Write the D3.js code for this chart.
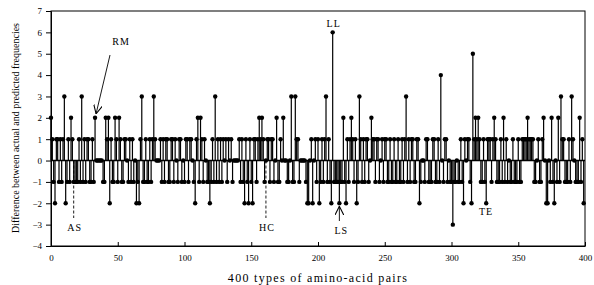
<!DOCTYPE html>
<html>
<head>
<meta charset="utf-8">
<script src="https://cdn.jsdelivr.net/npm/d3@7"></script>
<style>
  body { margin: 0; background: #fff; }
  svg { display: block; font-family: "Liberation Serif", "DejaVu Serif", serif; }
</style>
</head>
<body>
<svg id="chart" width="594" height="285"></svg>
<script>
// difference between actual and predicted frequencies, one value per amino-acid pair (index 0..399)
var diffs = [
  2,1,-1,-2,1,1,-1,1,-1,1, 3,-2,-1,1,-1,2,1,-1,-1,-1,
  -1,1,-1,3,-1,1,-1,1,1,-1, -1,1,-1,2,0,0,0,0,0,-1,
  -1,2,1,2,-2,1,-1,-1,2,1, -1,2,1,-1,-1,1,1,0,-1,1,
  -1,1,-1,0,-2,-1,-2,1,3,-1, -1,1,-1,-1,1,-1,1,3,1,0,
  0,0,1,-1,1,-1,1,1,-1,-1, 1,1,-1,1,0,-1,1,1,-1,0,
  -1,1,1,-1,1,1,0,-1,-2,1, 2,-1,2,1,-1,1,0,-1,-1,-2,
  -1,1,-1,3,-1,1,-1,1,-1,1, 0,1,-1,1,0,1,-1,0,0,0,
  0,1,-1,1,-1,-2,1,-1,-2,1, -1,-2,1,1,-1,1,2,1,2,1,
  -1,0,1,1,-1,1,1,-1,0,2, -1,-1,1,0,2,0,0,-1,-1,0,
  3,-1,-1,3,1,1,-1,0,0,0, 0,-1,-2,-2,0,1,-2,0,1,-1,
  1,-2,-1,1,-1,1,3,-1,1,-1, -2,6,-1,-1,-1,-1,-2,-1,-1,2,
  -1,-2,1,-1,1,2,1,-1,1,-2, -1,3,1,-1,1,-1,1,1,-1,0,
  2,1,1,-1,1,1,-1,0,1,-1, 1,1,-1,-1,1,-1,-1,1,-1,-1,
  1,-1,-1,1,-1,1,3,-1,1,-1, 1,1,-1,-1,1,1,-2,-1,0,0,
  -1,1,1,-1,-1,-1,1,1,-1,-1, 1,-1,4,0,-1,1,1,-1,0,-1,
  -1,-3,-1,-1,0,-1,-1,1,-1,-2, 1,0,1,1,-1,-2,5,1,2,1,
  2,1,-1,-1,1,-1,-2,1,1,1, -1,1,2,1,-1,-1,-1,1,-1,2,
  -1,1,-1,0,-1,-1,1,-1,-1,-1, 1,-1,-1,1,1,1,1,2,1,1,
  1,1,-1,-1,0,1,-1,-1,1,2, 0,-2,-2,0,-1,2,-1,-2,0,-1,
  2,-1,3,1,1,-1,-1,-1,1,-1, 3,1,0,-1,-1,-1,2,-1,1,-2
];
var xTicks = [0, 50, 100, 150, 200, 250, 300, 350, 400];
var yTicks = [-4, -3, -2, -1, 0, 1, 2, 3, 4, 5, 6, 7];

// labelled pairs: index, text
var arrowLabels = [
  {name: "RM", i: 33},
  {name: "LS", i: 216}
];
var dashLabels = [
  {name: "AS", i: 17},
  {name: "HC", i: 161}
];
var plainLabels = [
  {name: "LL", i: 211},
  {name: "TE", i: 326}
];

var svg = d3.select("#chart");
var mLeft = 51, mRight = 585, mTop = 11, mBottom = 246;

var x = d3.scaleLinear().domain([0, 400]).range([mLeft, mRight]);
var y = d3.scaleLinear().domain([-4, 7]).range([mBottom, mTop]);

// frame
svg.append("rect")
  .attr("x", mLeft).attr("y", mTop)
  .attr("width", mRight - mLeft).attr("height", mBottom - mTop)
  .attr("fill", "none").attr("stroke", "#000").attr("stroke-width", 1);

// y axis (ticks outward)
var yAxis = svg.append("g")
  .attr("transform", "translate(" + mLeft + ",0)")
  .call(d3.axisLeft(y).tickValues(yTicks).tickSize(5).tickPadding(4));
yAxis.selectAll("text").attr("font-size", 9).attr("font-family", "Liberation Serif");

// x axis (ticks inward)
var xAxis = svg.append("g")
  .attr("transform", "translate(0," + mBottom + ")")
  .call(d3.axisBottom(x).tickValues(xTicks).tickSizeInner(-4).tickSizeOuter(0).tickPadding(9));
xAxis.selectAll("text").attr("font-size", 9).attr("font-family", "Liberation Serif");

// zero line
svg.append("line")
  .attr("x1", mLeft).attr("x2", mRight)
  .attr("y1", y(0)).attr("y2", y(0))
  .attr("stroke", "#000").attr("stroke-width", 1.5);

// stems
svg.append("g").selectAll("line")
  .data(diffs)
  .join("line")
  .attr("x1", function(d, i) { return x(i); })
  .attr("x2", function(d, i) { return x(i); })
  .attr("y1", y(0))
  .attr("y2", function(d) { return y(d); })
  .attr("stroke", "#000")
  .attr("stroke-width", 1.2);

// markers
svg.append("g").selectAll("circle")
  .data(diffs)
  .join("circle")
  .attr("cx", function(d, i) { return x(i); })
  .attr("cy", function(d) { return y(d); })
  .attr("r", 2.2)
  .attr("fill", "#000");

// annotations
svg.append("defs").append("marker")
  .attr("id", "arr")
  .attr("viewBox", "0 0 10 10")
  .attr("refX", 10).attr("refY", 5)
  .attr("markerWidth", 9).attr("markerHeight", 9)
  .attr("markerUnits", "userSpaceOnUse")
  .attr("orient", "auto")
  .append("path")
  .attr("d", "M0,0 L10,5 L0,10")
  .attr("fill", "none").attr("stroke", "#000").attr("stroke-width", 1.2);

var rm = arrowLabels[0];
svg.append("line")
  .attr("x1", 110).attr("y1", 55)
  .attr("x2", x(rm.i) + 1).attr("y2", y(diffs[rm.i]) - 4)
  .attr("stroke", "#000").attr("stroke-width", 0.9)
  .attr("marker-end", "url(#arr)");
svg.append("text").attr("x", 121).attr("y", 45).attr("text-anchor", "middle")
  .attr("font-size", 10).attr("letter-spacing", 1).text(rm.name);

var ls = arrowLabels[1];
svg.append("line")
  .attr("x1", x(ls.i)).attr("y1", 221)
  .attr("x2", x(ls.i)).attr("y2", y(diffs[ls.i]) + 3)
  .attr("stroke", "#000").attr("stroke-width", 0.9)
  .attr("marker-end", "url(#arr)");
svg.append("text").attr("x", x(ls.i) + 2).attr("y", 234).attr("text-anchor", "middle")
  .attr("font-size", 10).attr("letter-spacing", 1).text(ls.name);

dashLabels.forEach(function(d) {
  svg.append("line")
    .attr("x1", x(d.i)).attr("x2", x(d.i))
    .attr("y1", y(0)).attr("y2", 218)
    .attr("stroke", "#000").attr("stroke-width", 0.9)
    .attr("stroke-dasharray", "3,2");
  svg.append("text").attr("x", x(d.i) + 1).attr("y", 231).attr("text-anchor", "middle")
    .attr("font-size", 10).attr("letter-spacing", 1).text(d.name);
});

svg.append("text").attr("x", x(plainLabels[0].i) + 1).attr("y", 27).attr("text-anchor", "middle")
  .attr("font-size", 10).attr("letter-spacing", 1).text(plainLabels[0].name);
svg.append("text").attr("x", 486).attr("y", 215).attr("text-anchor", "middle")
  .attr("font-size", 10).attr("letter-spacing", 1).text(plainLabels[1].name);

// axis titles
svg.append("text")
  .attr("x", 318).attr("y", 282)
  .attr("text-anchor", "middle")
  .attr("font-size", 12).attr("letter-spacing", 1.3)
  .text("400 types of amino-acid pairs");

svg.append("text")
  .attr("transform", "translate(19,128) rotate(-90)")
  .attr("text-anchor", "middle")
  .attr("font-size", 10)
  .text("Difference between actual and predicted frequencies");
</script>
</body>
</html>
